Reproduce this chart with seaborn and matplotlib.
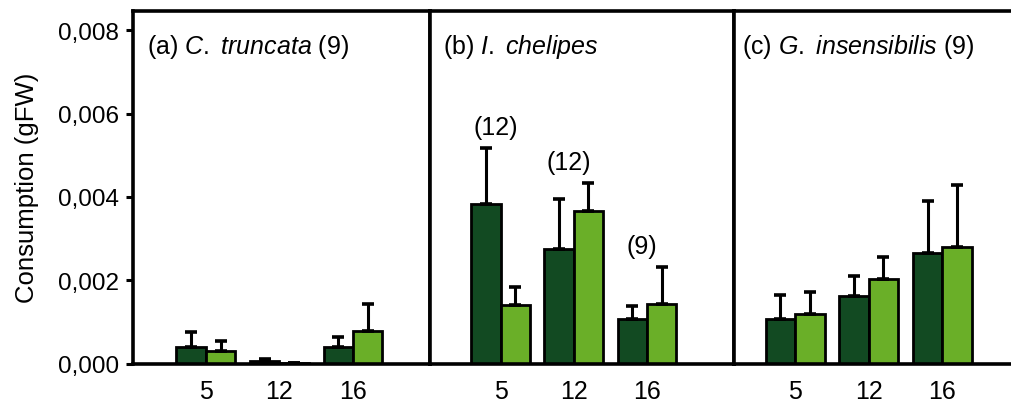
import pandas as pd
import seaborn as sns
import matplotlib.pyplot as plt
from matplotlib.ticker import FuncFormatter, MultipleLocator

# temperatures on the x axis, two treatments per temperature
temps = ["5", "12", "16"]
treatments = ["Treatment 1", "Treatment 2"]

# (a) C. truncata
ct_dark = [0.00039, 0.00006, 0.00039]
ct_dark_err = [0.00037, 0.00004, 0.00024]
ct_light = [0.00029, 0.00001, 0.00079]
ct_light_err = [0.00026, 0.00000, 0.00064]

# (b) I. chelipes
ic_dark = [0.00382, 0.00276, 0.00108]
ic_dark_err = [0.00135, 0.00120, 0.00030]
ic_light = [0.00141, 0.00366, 0.00143]
ic_light_err = [0.00043, 0.00068, 0.00089]
ic_n = ["(12)", "(12)", "(9)"]

# (c) G. insensibilis
gi_dark = [0.00108, 0.00162, 0.00266]
gi_dark_err = [0.00056, 0.00048, 0.00125]
gi_light = [0.00120, 0.00203, 0.00280]
gi_light_err = [0.00051, 0.00052, 0.00149]

titles = [
    r"(a) $\mathit{C.\ truncata}$ (9)",
    r"(b) $\mathit{I.\ chelipes}$",
    r"(c) $\mathit{G.\ insensibilis}$ (9)",
]

DARK = "#124a22"
LIGHT = "#6aaf28"


def long_frame(dark, light):
    rows = []
    for t, d, l in zip(temps, dark, light):
        rows.append({"temp": t, "treatment": treatments[0], "value": d})
        rows.append({"temp": t, "treatment": treatments[1], "value": l})
    return pd.DataFrame(rows)


sns.set_style("white")
plt.rcParams["font.family"] = ["Liberation Sans", "DejaVu Sans"]
plt.rcParams["mathtext.fontset"] = "custom"
plt.rcParams["mathtext.rm"] = "Liberation Sans"
plt.rcParams["mathtext.it"] = "Liberation Sans:italic"
for key in ["text.color", "axes.labelcolor", "xtick.color", "ytick.color"]:
    plt.rcParams[key] = "black"

W, H = 1011, 402
fig = plt.figure(figsize=(W / 100, H / 100), dpi=100)

# panel extents in pixels: left, right, x-limits, title x offset
panels = [
    (133, 429.5, (-0.99, 3.04), 0.047),
    (429.5, 734, (-0.97, 3.19), 0.044),
    (734, 1016, (-0.83, 3.0), 0.028),
]
y_top, y_bot = 12, 364.5

data = [
    (ct_dark, ct_dark_err, ct_light, ct_light_err),
    (ic_dark, ic_dark_err, ic_light, ic_light_err),
    (gi_dark, gi_dark_err, gi_light, gi_light_err),
]

for i, ((x0, x1, xlim, tx), (dk, dk_e, lt, lt_e)) in enumerate(zip(panels, data)):
    ax = fig.add_axes([x0 / W, 1 - y_bot / H, (x1 - x0) / W, (y_bot - y_top) / H])
    df = long_frame(dk, lt)
    sns.barplot(
        data=df,
        x="temp",
        y="value",
        hue="treatment",
        order=temps,
        hue_order=treatments,
        palette=[DARK, LIGHT],
        saturation=1,
        width=0.8,
        edgecolor="black",
        linewidth=2,
        errorbar=None,
        legend=False,
        ax=ax,
    )
    # upper error bars only
    for container, errs in zip(ax.containers, [dk_e, lt_e]):
        for bar, e in zip(container, errs):
            xc = bar.get_x() + bar.get_width() / 2
            h = bar.get_height()
            ax.errorbar(
                xc, h, yerr=[[0], [e]], fmt="none", ecolor="black",
                elinewidth=2.2, capsize=4, capthick=2.6, zorder=1,
            )

    ax.set_xlim(*xlim)
    ax.set_ylim(0, 0.00846)
    ax.set_xlabel("")
    ax.set_ylabel("")
    for side in ["left", "right", "top", "bottom"]:
        ax.spines[side].set_visible(True)
        ax.spines[side].set_linewidth(2.6)
        ax.spines[side].set_color("black")
    ax.tick_params(axis="x", length=0, pad=11, labelsize=18)
    ax.yaxis.set_major_locator(MultipleLocator(0.002))
    if i == 0:
        ax.yaxis.set_major_formatter(
            FuncFormatter(lambda v, _: f"{v:.3f}".replace(".", ","))
        )
        ax.tick_params(axis="y", left=True, length=5, width=2.2, direction="out",
                       labelsize=17.5, pad=5)
        ax.set_ylabel("Consumption (gFW)", fontsize=18.5)
        ax.yaxis.set_label_coords(-0.317, 0.5)
    else:
        ax.tick_params(axis="y", left=False, labelleft=False)

    ax.text(tx, 0.9007, titles[i], transform=ax.transAxes, fontsize=18,
            ha="left", va="center")

    if i == 1:
        for j, (label, d, de) in enumerate(zip(ic_n, dk, dk_e)):
            upper = max(d + de, lt[j] + lt_e[j])
            ax.text(j - 0.07, upper + 0.0005, label, fontsize=18,
                    ha="center", va="center")

fig.savefig("out.png", dpi=100)
